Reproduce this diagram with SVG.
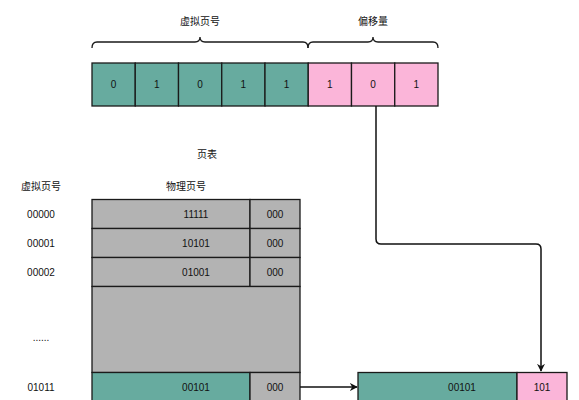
<svg xmlns="http://www.w3.org/2000/svg" width="579" height="400" viewBox="0 0 579 400">
<style>
text{font-family:"Liberation Sans",Arial,"Noto Sans CJK SC",sans-serif;font-size:10px;fill:#111;text-anchor:middle}
.t{fill:#67AB9F;stroke:#1a1a1a;stroke-width:1.3}
.p{fill:#FBB5D9;stroke:#1a1a1a;stroke-width:1.3}
.g{fill:#B3B3B3;stroke:#1a1a1a;stroke-width:1.3}
.b{fill:none;stroke:#1a1a1a;stroke-width:1.3}
.c{fill:none;stroke:#111;stroke-width:1.5}
</style>
<defs>
<marker id="ah" viewBox="0 0 10 10" refX="9" refY="5" markerWidth="8" markerHeight="8" markerUnits="userSpaceOnUse" orient="auto">
<path d="M0,0 L10,5 L0,10 L3,5 Z" fill="#111"/>
</marker>
</defs>
<g id="labels">
<text x="200" y="25">虚拟页号</text>
<text x="373" y="25">偏移量</text>
<text x="207" y="158">页表</text>
<text x="41" y="190">虚拟页号</text>
<text x="186" y="190">物理页号</text>
<text x="41" y="218">00000</text>
<text x="41" y="247">00001</text>
<text x="41" y="276">00002</text>
<text x="41" y="341">......</text>
<text x="41" y="391">01011</text>
</g>
<g id="braces">
<path class="b" d="M92,48 Q92,42 97,42 H195 Q200,42 200,37 Q200,42 205,42 H303 Q308,42 308,48"/>
<path class="b" d="M308,48 Q308,42 313,42 H368 Q373,42 373,37 Q373,42 378,42 H433 Q438,42 438,48"/>
</g>
<g id="address">
<rect class="t" x="92" y="63" width="43.25" height="43"/>
<rect class="t" x="135.25" y="63" width="43.25" height="43"/>
<rect class="t" x="178.5" y="63" width="43.25" height="43"/>
<rect class="t" x="221.75" y="63" width="43.25" height="43"/>
<rect class="t" x="265" y="63" width="43.25" height="43"/>
<rect class="p" x="308.25" y="63" width="43.25" height="43"/>
<rect class="p" x="351.5" y="63" width="43.25" height="43"/>
<rect class="p" x="394.75" y="63" width="43.25" height="43"/>
<text x="113.6" y="88">0</text>
<text x="156.9" y="88">1</text>
<text x="200.1" y="88">0</text>
<text x="243.4" y="88">1</text>
<text x="286.6" y="88">1</text>
<text x="329.9" y="88">1</text>
<text x="373.1" y="88">0</text>
<text x="416.4" y="88">1</text>
</g>
<g id="pagetable">
<rect class="g" x="92" y="199.5" width="158" height="29"/>
<rect class="g" x="250" y="199.5" width="50" height="29"/>
<rect class="g" x="92" y="228.5" width="158" height="29"/>
<rect class="g" x="250" y="228.5" width="50" height="29"/>
<rect class="g" x="92" y="257.5" width="158" height="29"/>
<rect class="g" x="250" y="257.5" width="50" height="29"/>
<rect class="g" x="92" y="286.5" width="208" height="86"/>
<rect class="t" x="92" y="372.5" width="158" height="29"/>
<rect class="g" x="250" y="372.5" width="50" height="29"/>
<text x="196" y="218">11111</text>
<text x="275" y="218">000</text>
<text x="196" y="247">10101</text>
<text x="275" y="247">000</text>
<text x="196" y="276">01001</text>
<text x="275" y="276">000</text>
<text x="196" y="391">00101</text>
<text x="275" y="391">000</text>
</g>
<g id="result">
<rect class="t" x="358" y="372.5" width="159" height="29"/>
<rect class="p" x="517" y="372.5" width="50" height="29"/>
<text x="462" y="391">00101</text>
<text x="542" y="391">101</text>
</g>
<g id="connectors">
<path class="c" d="M376,106 V239 Q376,244 381,244 H536 Q541,244 541,249 V371" marker-end="url(#ah)"/>
<path class="c" d="M300,387 H357" marker-end="url(#ah)"/>
</g>
</svg>
